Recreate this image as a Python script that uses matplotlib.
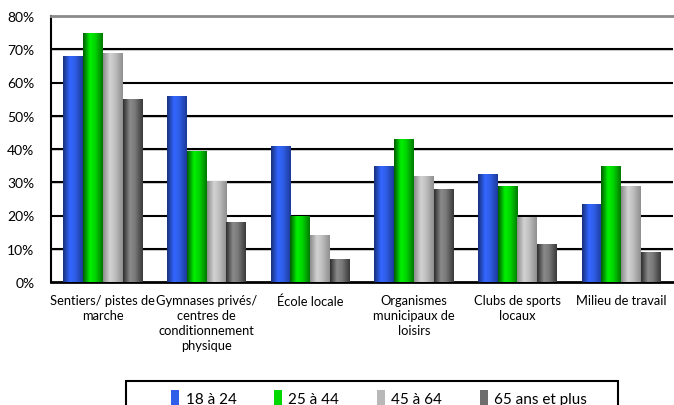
import numpy as np
import matplotlib.pyplot as plt
from matplotlib.colors import LinearSegmentedColormap
from matplotlib.patches import Patch, Rectangle

plt.rcParams['font.family'] = ['Lato', 'DejaVu Sans']

# Données
categories = ["Sentiers/ pistes de\nmarche",
              "Gymnases privés/\ncentres de\nconditionnement\nphysique",
              "École locale",
              "Organismes\nmunicipaux de\nloisirs",
              "Clubs de sports\nlocaux",
              "Milieu de travail"]
groupes = ["18 à 24", "25 à 44", "45 à 64", "65 ans et plus"]
v_18_24 = [68, 56, 41, 35, 32.5, 23.5]
v_25_44 = [75, 39.5, 20, 43, 29, 35]
v_45_64 = [69, 30.5, 14, 32, 19.5, 29]
v_65 = [55, 18, 7, 28, 11.5, 9]
series = [v_18_24, v_25_44, v_45_64, v_65]

# dégradés horizontaux (effet cylindre)
degrades = [
    ["#17307a", "#3366ff", "#2f5ee8", "#1c3a9a"],
    ["#005c00", "#00f000", "#00d800", "#007a00"],
    ["#8c8c8c", "#d2d2d2", "#c0c0c0", "#8f8f8f"],
    ["#2e2e2e", "#8a8a8a", "#7a7a7a", "#3a3a3a"],
]
couleurs_leg = ["#2f5ee8", "#00d800", "#b8b8b8", "#6e6e6e"]
cmaps = [LinearSegmentedColormap.from_list("g%d" % i, list(zip([0, 0.35, 0.6, 1], c)))
         for i, c in enumerate(degrades)]
grad = np.linspace(0, 1, 64).reshape(1, -1)

fig = plt.figure(figsize=(6.74, 4.06), dpi=100)
ax = fig.add_axes([51/674, 1-283/406, 622/674, 266/406])

x = np.arange(len(categories))
w = 0.19
for i, vals in enumerate(series):
    bars = ax.bar(x + (i - 1.5) * w, vals, w, facecolor='none', edgecolor='none', zorder=3)
    for b in bars:
        bx, by = b.get_xy()
        im = ax.imshow(grad, cmap=cmaps[i], extent=(bx, bx + b.get_width(), by, by + b.get_height()),
                       aspect='auto', zorder=3, interpolation='bilinear')
        im.set_clip_path(b)

ax.set_xlim(-0.5, 5.5)
ax.set_ylim(0, 80)
ax.set_yticks(np.arange(0, 81, 10))
ax.set_yticklabels(["%d%%" % v for v in range(0, 81, 10)], fontsize=10)
ax.set_xticks(x)
ax.set_xticklabels(categories, fontsize=9.3, linespacing=1.3, va='top')
ax.tick_params(axis='both', length=0)
ax.tick_params(axis='x', pad=9)
ax.tick_params(axis='y', pad=12)

for v in range(10, 80, 10):
    ax.axhline(v - 0.3, color='#c8c8c8', lw=1.2, zorder=1)
    ax.axhline(v, color='black', lw=1.5, zorder=1)

ax.spines['right'].set_visible(False)
ax.spines['top'].set_color('#8a8a8a')
ax.spines['top'].set_linewidth(2)
ax.spines['left'].set_color('black')
ax.spines['left'].set_linewidth(1.5)
ax.spines['bottom'].set_color('black')
ax.spines['bottom'].set_linewidth(2)

# légende (cadre dessiné à part)
handles = [Patch(facecolor=c, edgecolor='none') for c in couleurs_leg]
top = 1 - 382/406
leg = fig.legend(handles, groupes, loc='upper center', ncol=4,
                 bbox_to_anchor=(379/674, top - 4/406),
                 fontsize=11, frameon=False, handlelength=0.55,
                 handleheight=1.2, handletextpad=0.4, columnspacing=2.45,
                 borderpad=0.3, borderaxespad=0)
fig.add_artist(Rectangle((126/674, top - 0.2), 492/674, 0.2, transform=fig.transFigure,
                         facecolor='none', edgecolor='black', lw=1.5))

fig.savefig("out.png", dpi=100)
